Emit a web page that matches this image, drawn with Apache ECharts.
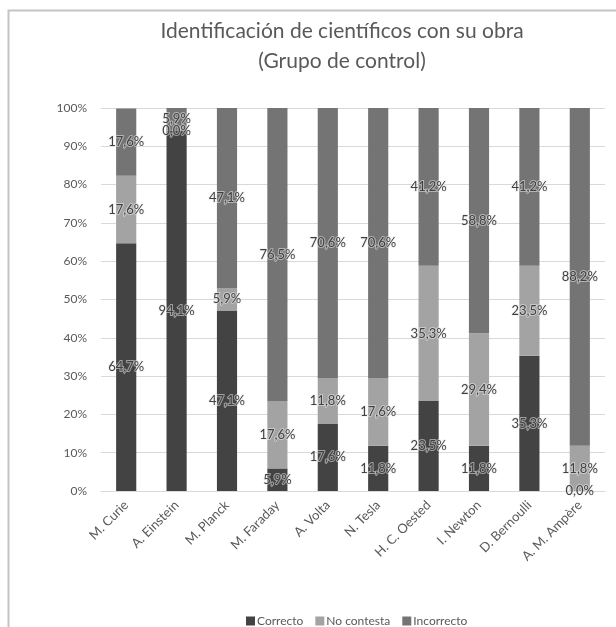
<!DOCTYPE html>
<html>
<head>
<meta charset="utf-8">
<script src="https://cdn.jsdelivr.net/npm/echarts@6/dist/echarts.min.js"></script>
<style>
  html, body { margin: 0; padding: 0; background: #ffffff; }
  #chart { width: 616px; height: 627px; }
</style>
</head>
<body>
<div id="chart"></div>
<script>
// Científicos evaluados (eje de categorías)
const cientificos = ['M. Curie', 'A. Einstein', 'M. Planck', 'M. Faraday', 'A. Volta',
  'N. Tesla', 'H. C. Oested', 'I. Newton', 'D. Bernoulli', 'A. M. Ampère'];

// Porcentaje de respuestas por categoría
const correcto   = [64.7, 94.1, 47.1, 5.9, 17.6, 11.8, 23.5, 11.8, 35.3, 0.0];
const noContesta = [17.6, 0.0, 5.9, 17.6, 11.8, 17.6, 35.3, 29.4, 23.5, 11.8];
const incorrecto = [17.6, 5.9, 47.1, 76.5, 70.6, 70.6, 41.2, 58.8, 41.2, 88.2];

// Marcas del eje vertical
const ticksY = [0, 10, 20, 30, 40, 50, 60, 70, 80, 90, 100];

const FONT = 'Lato, "Open Sans", sans-serif';
const TEXT = '#595959';

const fmtPct = v => v.toFixed(1).replace('.', ',') + '%';

function serie(nombre, datos, color) {
  return {
    name: nombre,
    type: 'bar',
    stack: 'total',
    barWidth: '40%',
    data: datos,
    itemStyle: { color: color },
    label: {
      show: true,
      position: 'inside',
      color: '#404040',
      fontFamily: FONT,
      fontSize: 13,
      textBorderColor: 'rgba(235,235,235,0.55)',
      textBorderWidth: 2,
      formatter: p => fmtPct(p.value)
    }
  };
}

const chart = echarts.init(document.getElementById('chart'), null, { renderer: 'canvas' });

chart.setOption({
  backgroundColor: '#ffffff',
  animation: false,
  graphic: [{
    type: 'rect',
    shape: { x: 8.5, y: 10.5, width: 700, height: 700 },
    style: { fill: 'none', stroke: '#c4c4c4', lineWidth: 2 },
    silent: true,
    z: -10
  }],
  title: {
    text: 'Identificación de científicos con su obra\n(Grupo de control)',
    left: 337,
    top: 11,
    textAlign: 'center',
    textStyle: {
      fontFamily: FONT,
      fontSize: 21,
      fontWeight: 'normal',
      color: TEXT,
      lineHeight: 30
    }
  },
  legend: {
    left: 241,
    top: 610,
    itemWidth: 9,
    itemHeight: 9,
    itemGap: 12,
    icon: 'rect',
    textStyle: { fontFamily: FONT, fontSize: 12, color: TEXT, padding: [0, 0, 0, -3] },
    data: ['Correcto', 'No contesta', 'Incorrecto']
  },
  grid: { left: 101, right: 11, top: 108, bottom: 136, containLabel: false },
  xAxis: {
    type: 'category',
    data: cientificos,
    axisLine: { lineStyle: { color: '#d9d9d9' } },
    axisTick: { show: false },
    axisLabel: {
      interval: 0,
      rotate: 45,
      color: TEXT,
      fontFamily: FONT,
      fontSize: 13,
      margin: 12
    }
  },
  yAxis: {
    type: 'value',
    min: ticksY[0],
    max: ticksY[ticksY.length - 1],
    interval: ticksY[1] - ticksY[0],
    axisLine: { show: false },
    axisTick: { show: false },
    splitLine: { lineStyle: { color: '#d9d9d9' } },
    axisLabel: {
      color: TEXT,
      fontFamily: FONT,
      fontSize: 12,
      margin: 14,
      formatter: v => v + '%'
    }
  },
  series: [
    serie('Correcto', correcto, '#434343'),
    serie('No contesta', noContesta, '#a3a3a3'),
    serie('Incorrecto', incorrecto, '#747474')
  ]
});
</script>
</body>
</html>
